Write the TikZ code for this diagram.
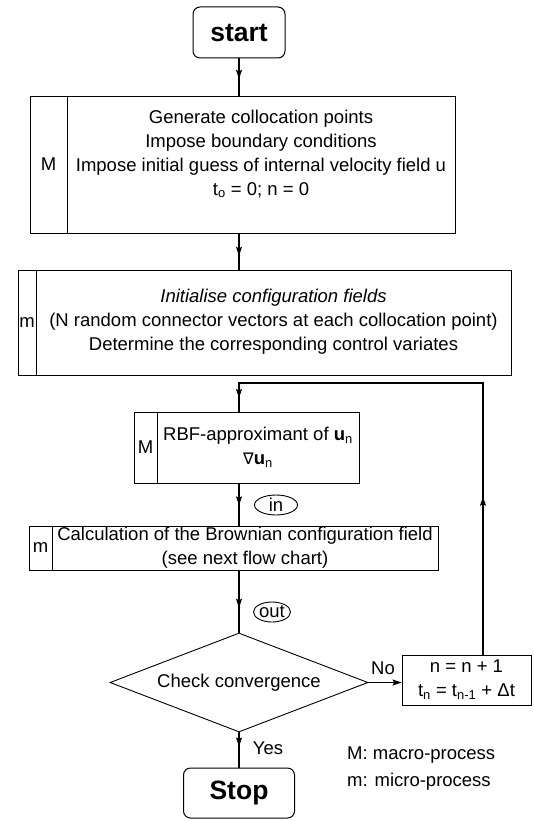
\documentclass[tikz,border=0pt]{standalone}
\usepackage{fontspec}
\setmainfont{Liberation Sans}
\newfontfamily\symfnt{DejaVu Sans}
\usetikzlibrary{shapes.geometric,arrows.meta,decorations.markings}
\newcommand\fs{\fontsize{18.5}{24}\selectfont}
\tikzset{
  boxed/.style={draw, line width=0.9pt, inner sep=0pt},
  txt/.style={align=center, font=\fs, inner sep=0pt},
  term/.style={draw, line width=1pt, rounded corners=7pt, inner sep=0pt,
    font=\bfseries\fontsize{26.5}{30}\selectfont},
  oval/.style={draw, ellipse, line width=0.9pt, inner sep=0pt, font=\fs},
  conn/.style={line width=1.2pt},
  tipx/.tip={Stealth[length=9pt,width=6pt,inset=1.5pt]},
  arrowat/.style={postaction={decorate, decoration={markings,
    mark=at position #1 with {\arrow{tipx}}}}},
}
\begin{document}
\begin{tikzpicture}[x=1pt,y=-1pt]
\useasboundingbox (0,0) rectangle (533,821);
\coordinate (ax) at (239,0);

% start
\node[term, minimum width=92pt, minimum height=51pt] (start) at (239,32.5) {start};

% box 1
\node[boxed, minimum width=37pt, minimum height=137pt, font=\fs] (b1lab) at (48.5,164.5) {M};
\node[boxed, minimum width=388pt, minimum height=137pt] (b1) at (261,164.5) {};
\node[txt] (b1t) at (261,154) {Generate collocation points\\Impose boundary conditions\\Impose initial guess of internal velocity field u\\t\textsubscript{o} = 0; n = 0};

% box 2
\node[boxed, minimum width=18pt, minimum height=105pt, font=\fs] (b2lab) at (27,322.5) {m};
\node[boxed, minimum width=475pt, minimum height=105pt] (b2) at (273.5,322.5) {};
\node[txt] (b2t) at (273.5,322) {\itshape Initialise configuration fields\\(N random connector vectors at each collocation point)\\Determine the corresponding control variates};

% box 3
\node[boxed, minimum width=23pt, minimum height=71pt, font=\fs] (b3lab) at (145.5,447.5) {M};
\node[boxed, minimum width=202pt, minimum height=71pt, txt] (b3) at (258,447.5) {RBF-approximant of \textbf{u}\textsubscript{n}\\{\symfnt\fontsize{16}{20}\selectfont ∇}\textbf{u}\textsubscript{n}};

% box 4
\node[boxed, minimum width=23pt, minimum height=44pt, font=\fs] (b4lab) at (40.5,548) {m};
\node[boxed, minimum width=386pt, minimum height=44pt, txt] (b4) at (245,548) {Calculation of the Brownian configuration field\\(see next flow chart)};

% in / out
\node[oval, minimum width=43pt, minimum height=20pt] (inE) at (276,505) {in};
\node[oval, minimum width=37pt, minimum height=20pt] (outE) at (272,612) {out};

% decision
\node[draw, diamond, line width=0.9pt, inner sep=0pt, minimum width=258pt, minimum height=99pt] (dia) at (239,682.5) {};
\node[txt] (diat) at (239,683) {Check convergence};

% increment box
\node[boxed, minimum width=129pt, minimum height=50pt, txt] (nb) at (466.5,680) {n = n + 1\\t\textsubscript{n} = t\textsubscript{n-1} + Δt};

% stop
\node[term, minimum width=111pt, minimum height=50pt] (stop) at (239,793) {Stop};

% labels
\node[txt] (no) at (383,668) {No};
\node[txt] (yes) at (268,748) {Yes};
\node[txt, anchor=west] (legM) at (347,755) {M: macro-process};
\node[txt, anchor=west] (legm) at (347,782) {m: micro-process};

% connectors
\draw[conn, arrowat=0.55] (start.south) -- (start.south |- b1.north);
\draw[conn, arrowat=0.62] (b1.south -| ax) -- (b2.north -| ax);
\draw[conn, arrowat=0.52] (b3.south -| ax) -- (b4.north -| ax);
\draw[conn, arrowat=0.6] (b4.south -| ax) -- (dia.north);
\draw[conn, arrowat=0.4] (dia.south) -- (stop.north);
\draw[conn, -tipx] (dia.east) -- (nb.west |- dia.east);
\coordinate (loopR) at (483,383);
\coordinate (loopL) at (239,383);
\draw[conn, arrowat=0.29, arrowat=0.975] (nb.north -| loopR) -- (loopR) -- (loopL) -- (b3.north -| loopL);
\end{tikzpicture}
\end{document}
